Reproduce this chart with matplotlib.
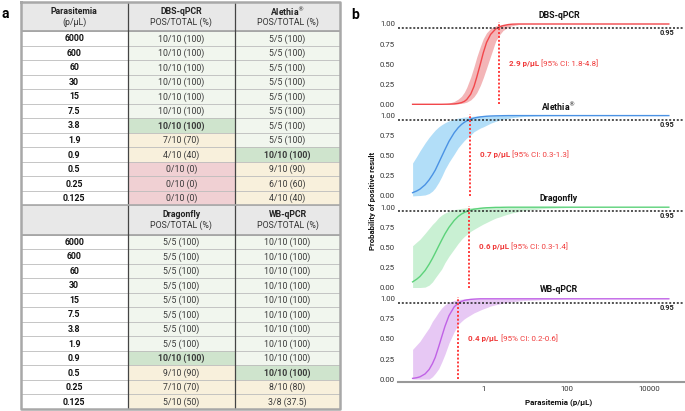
import numpy as np
import matplotlib.pyplot as plt
from matplotlib.patches import Rectangle

plt.rcParams['font.family'] = ['Roboto', 'DejaVu Sans']

W, H = 685, 411

# ---------------- panel a : table ----------------
parasitemia = ['6000', '600', '60', '30', '15', '7.5', '3.8', '1.9', '0.9', '0.5', '0.25', '0.125']

dbs_pos = [10, 10, 10, 10, 10, 10, 10, 7, 4, 0, 0, 0]
dbs_tot = [10, 10, 10, 10, 10, 10, 10, 10, 10, 10, 10, 10]
alethia_pos = [5, 5, 5, 5, 5, 5, 5, 5, 10, 9, 6, 4]
alethia_tot = [5, 5, 5, 5, 5, 5, 5, 5, 10, 10, 10, 10]
dragonfly_pos = [5, 5, 5, 5, 5, 5, 5, 5, 10, 9, 7, 5]
dragonfly_tot = [5, 5, 5, 5, 5, 5, 5, 5, 10, 10, 10, 10]
wb_pos = [10, 10, 10, 10, 10, 10, 10, 10, 10, 10, 8, 3]
wb_tot = [10, 10, 10, 10, 10, 10, 10, 10, 10, 10, 10, 8]

# row of the lowest concentration with all replicates positive (bold cell)
dbs_lod_row = 6
alethia_lod_row = 8
dragonfly_lod_row = 8
wb_lod_row = 9

# ---------------- panel b : probit curves ----------------
xgrid = [0.02, 0.025, 0.03, 0.04, 0.05, 0.06, 0.07, 0.085, 0.1, 0.12,
         0.15, 0.2, 0.25, 0.3, 0.35, 0.4, 0.5, 0.6, 0.7, 0.85,
         1, 1.2, 1.5, 2, 2.5, 3, 4, 5, 7, 10,
         30, 100, 1000, 29000]

dbs_fit = [0, 0, 0, 0, 0, 0, 0, 0, 0, 0.001,
           0.002, 0.005, 0.011, 0.021, 0.036, 0.059, 0.127, 0.224, 0.34, 0.5,
           0.64, 0.77, 0.87, 0.94, 0.965, 0.98, 0.993, 0.998, 1, 1,
           1, 1, 1, 1]
dbs_hi = [0, 0, 0, 0, 0, 0, 0.001, 0.002, 0.004, 0.008,
          0.015, 0.035, 0.065, 0.1, 0.15, 0.21, 0.34, 0.47, 0.59, 0.72,
          0.816, 0.89, 0.943, 0.977, 0.989, 0.994, 0.998, 0.999, 1, 1,
          1, 1, 1, 1]
dbs_lo = [0, 0, 0, 0, 0, 0, 0, 0, 0, 0,
          0, 0.003, 0.007, 0.012, 0.018, 0.027, 0.055, 0.095, 0.145, 0.235,
          0.33, 0.45, 0.6, 0.79, 0.87, 0.92, 0.96, 0.98, 0.993, 0.998,
          1, 1, 1, 1]

alethia_fit = [0.04, 0.061, 0.084, 0.139, 0.2, 0.262, 0.32, 0.412, 0.49, 0.577,
               0.68, 0.786, 0.85, 0.89, 0.916, 0.934, 0.956, 0.969, 0.977, 0.984,
               0.988, 0.992, 0.995, 0.997, 0.998, 0.999, 1, 1, 1, 1,
               1, 1, 1, 1]
alethia_hi = [0.41, 0.49, 0.56, 0.66, 0.73, 0.78, 0.82, 0.86, 0.886, 0.911,
              0.935, 0.957, 0.969, 0.976, 0.981, 0.984, 0.989, 0.992, 0.994, 0.995,
              0.997, 0.998, 0.998, 0.999, 0.999, 1, 1, 1, 1, 1,
              1, 1, 1, 1]
alethia_lo = [0, 0.003, 0.005, 0.012, 0.03, 0.06, 0.1, 0.17, 0.24, 0.33,
              0.42, 0.52, 0.6, 0.65, 0.69, 0.72, 0.76, 0.8, 0.82, 0.845,
              0.86, 0.88, 0.905, 0.93, 0.945, 0.955, 0.965, 0.975, 0.983, 0.99,
              0.998, 1, 1, 1]

dragonfly_fit = [0.07, 0.103, 0.137, 0.212, 0.29, 0.362, 0.43, 0.518, 0.59, 0.668,
                 0.75, 0.835, 0.885, 0.915, 0.934, 0.947, 0.964, 0.975, 0.98, 0.986,
                 0.99, 0.993, 0.995, 0.998, 0.998, 0.999, 1, 1, 1, 1,
                 1, 1, 1, 1]
dragonfly_hi = [0.52, 0.565, 0.6, 0.675, 0.736, 0.786, 0.82, 0.872, 0.902, 0.927,
                0.949, 0.97, 0.978, 0.985, 0.989, 0.992, 0.995, 0.997, 0.998, 0.999,
                1, 1, 1, 1, 1, 1, 1, 1, 1, 1,
                1, 1, 1, 1]
dragonfly_lo = [0, 0, 0, 0.005, 0.03, 0.07, 0.12, 0.18, 0.23, 0.31,
                0.39, 0.48, 0.55, 0.6, 0.635, 0.66, 0.7, 0.725, 0.745, 0.77,
                0.79, 0.81, 0.835, 0.865, 0.88, 0.895, 0.915, 0.93, 0.945, 0.96,
                0.985, 0.995, 1, 1]

wb_fit = [0.009, 0.017, 0.028, 0.065, 0.12, 0.192, 0.27, 0.405, 0.525, 0.657,
          0.79, 0.9, 0.946, 0.968, 0.98, 0.986, 0.993, 0.996, 0.998, 1,
          1, 1, 1, 1, 1, 1, 1, 1, 1, 1,
          1, 1, 1, 1]
wb_hi = [0.37, 0.425, 0.47, 0.567, 0.64, 0.72, 0.77, 0.837, 0.885, 0.925,
         0.955, 0.98, 0.99, 0.995, 0.998, 0.999, 1, 1, 1, 1,
         1, 1, 1, 1, 1, 1, 1, 1, 1, 1,
         1, 1, 1, 1]
wb_lo = [0, 0, 0, 0, 0, 0.03, 0.07, 0.13, 0.21, 0.31,
         0.45, 0.59, 0.68, 0.72, 0.75, 0.77, 0.8, 0.825, 0.84, 0.86,
         0.875, 0.89, 0.91, 0.926, 0.937, 0.946, 0.958, 0.964, 0.972, 0.98,
         0.99, 0.998, 1, 1]

# where the fitted curve meets 0.95 (red dotted line) and the reported LoD
cross_x = [2.36, 0.47, 0.45, 0.25]
lod_txt = ['2.9', '0.7', '0.6', '0.4']
ci_txt = ['1.8-4.8', '0.3-1.3', '0.3-1.4', '0.2-0.6']

assays = ['DBS-qPCR', r'Alethia$^{\circledR}$', 'Dragonfly', 'WB-qPCR']
line_colors = ['#f2474b', '#4a92e4', '#5cd27a', '#c062e6']
band_colors = ['#f3b5b7', '#b2def8', '#c9f0d3', '#e7c8f4']

fig = plt.figure(figsize=(W / 100, H / 100), dpi=100)

# ---------------- draw table ----------------
ax_t = fig.add_axes([20.7 / W, 1 - 409 / H, 319.3 / W, 407 / H])
ax_t.set_xlim(0, 319.3)
ax_t.set_ylim(28, 0)
ax_t.axis('off')
col_x = [0, 107, 214.3, 319.3]

c_header = '#e8e8e8'
c_full = '#f1f6ee'
c_lod = '#cfe4cd'
c_part = '#f8f0dc'
c_zero = '#f0d0d3'


def cell_text(p, t):
    return f"{p}/{t} ({100 * p / t:g})"


blocks = [
    (('Parasitemia', '(p/µL)'), ('DBS-qPCR', dbs_pos, dbs_tot, dbs_lod_row),
     (r'Alethia$^{\circledR}$', alethia_pos, alethia_tot, alethia_lod_row)),
    (('', ''), ('Dragonfly', dragonfly_pos, dragonfly_tot, dragonfly_lod_row),
     ('WB-qPCR', wb_pos, wb_tot, wb_lod_row)),
]

for b, (first, colA, colB) in enumerate(blocks):
    top = b * 14
    ax_t.add_patch(Rectangle((0, top), 319.3, 2, facecolor=c_header, edgecolor='none'))
    ax_t.text((col_x[0] + col_x[1]) / 2, top + 0.64, first[0], ha='center', va='center',
              fontsize=6.3, fontweight='bold', color='#222')
    ax_t.text((col_x[0] + col_x[1]) / 2, top + 1.36, first[1], ha='center', va='center',
              fontsize=6.3, color='#333')
    for k, (name, pos, tot, lrow) in enumerate([colA, colB]):
        xc = (col_x[k + 1] + col_x[k + 2]) / 2
        ax_t.text(xc, top + 0.64, name, ha='center', va='center',
                  fontsize=6.3, fontweight='bold', color='#222')
        ax_t.text(xc, top + 1.36, 'POS/TOTAL (%)', ha='center', va='center',
                  fontsize=6.3, color='#333')
        for i in range(12):
            y = top + 2 + i
            if i == lrow:
                fc = c_lod
            elif pos[i] == tot[i]:
                fc = c_full
            elif pos[i] == 0:
                fc = c_zero
            else:
                fc = c_part
            ax_t.add_patch(Rectangle((col_x[k + 1], y), col_x[k + 2] - col_x[k + 1], 1,
                                     facecolor=fc, edgecolor='none'))
            ax_t.text(xc, y + 0.53, cell_text(pos[i], tot[i]), ha='center', va='center',
                      fontsize=6.3, color='#3a3a3a',
                      fontweight='bold' if i == lrow else 'normal')
    for i in range(12):
        y = top + 2 + i
        ax_t.text((col_x[0] + col_x[1]) / 2, y + 0.53, parasitemia[i], ha='center', va='center',
                  fontsize=6.3, fontweight='bold', color='#111')
    # grid lines
    for i in range(13):
        ax_t.plot([0, 319.3], [top + 2 + i, top + 2 + i], color='#bcbcbc', lw=0.6)
    ax_t.plot([0, 319.3], [top + 2, top + 2], color='#a0a0a0', lw=1.2)
    for xv in col_x[1:3]:
        ax_t.plot([xv, xv], [top, top + 14], color='#444', lw=0.9)

ax_t.plot([0, 319.3, 319.3, 0, 0], [0, 0, 28, 28, 0], color='#a8a8a8', lw=1.8, clip_on=False)
ax_t.plot([0, 319.3], [14, 14], color='#a8a8a8', lw=1.2)

fig.text(5 / W, 1 - 13.5 / H, 'a', fontsize=10, fontweight='bold', ha='center', va='center')
fig.text(355 / W, 1 - 15 / H, 'b', fontsize=10, fontweight='bold', ha='center', va='center')

# ---------------- draw probit panels ----------------
fits = [dbs_fit, alethia_fit, dragonfly_fit, wb_fit]
his = [dbs_hi, alethia_hi, dragonfly_hi, wb_hi]
los = [dbs_lo, alethia_lo, dragonfly_lo, wb_lo]

y_one = [24, 115.6, 207.2, 298.8]
scale = 80.3
ylo, yhi = -0.035, 1.05
left_px, right_px = 398, 684
xlo, xhi = 10 ** -2.05, 10 ** 4.827

renderer = fig.canvas.get_renderer()
for k in range(4):
    bottom_px = y_one[k] + scale * (1 - ylo)
    ax = fig.add_axes([left_px / W, 1 - bottom_px / H, (right_px - left_px) / W,
                       scale * (yhi - ylo) / H])
    ax.set_xscale('log')
    ax.set_xlim(xlo, xhi)
    ax.set_ylim(ylo, yhi)
    ax.fill_between(xgrid, los[k], his[k], color=band_colors[k], lw=0)
    ax.plot(xgrid, fits[k], color=line_colors[k], lw=1.0)
    ax.axhline(0.95, color='#222', lw=1.1, ls=(0, (1.3, 1.2)))
    ax.plot([cross_x[k], cross_x[k]], [0, 1.02], color='#ff3b3b', lw=1.4,
            ls=(0, (1.0, 1.0)), clip_on=False)
    ax.text(39000, 0.885, '0.95', ha='right', va='center', fontsize=5.3,
            fontweight='bold', color='#222')
    ax.text(66, 1.11, assays[k], ha='center', va='center', fontsize=6.3,
            fontweight='bold', color='#111', clip_on=False)

    t1 = ax.annotate(f'{lod_txt[k]} p/µL', xy=(cross_x[k], 0.51), xytext=(7.4, 0),
                     textcoords='offset points', ha='left', va='center',
                     fontsize=5.8, fontweight='bold', color='#f03a3a')
    w = t1.get_window_extent(renderer).width * 72 / fig.dpi
    ax.annotate(f'[95% CI: {ci_txt[k]}]', xy=(cross_x[k], 0.51), xytext=(7.4 + w + 1.5, 0),
                textcoords='offset points', ha='left', va='center',
                fontsize=5.8, color='#f03a3a')

    ax.set_yticks([0, 0.25, 0.5, 0.75, 1.0])
    ax.set_yticklabels(['0.00', '0.25', '0.50', '0.75', '1.00'])
    ax.tick_params(axis='y', length=0, pad=2, labelsize=5.6, labelcolor='#333')
    ax.minorticks_off()
    for s in ['top', 'right', 'left']:
        ax.spines[s].set_visible(False)
    if k < 3:
        ax.spines['bottom'].set_visible(False)
        ax.set_xticks([])
    else:
        ax.spines['bottom'].set_color('#999')
        ax.spines['bottom'].set_linewidth(1.5)
        ax.set_xticks([1, 100, 10000])
        ax.set_xticklabels(['1', '100', '10000'])
        ax.tick_params(axis='x', length=0, pad=3, labelsize=5.6, labelcolor='#333')

fig.text(559 / W, 1 - 402 / H, 'Parasitemia (p/µL)', ha='center', va='center',
         fontsize=5.8, fontweight='bold', color='#111')
fig.text(372 / W, 1 - 201 / H, 'Probability of positive result', ha='center', va='center',
         rotation=90, fontsize=5.6, fontweight='bold', color='#111')

fig.savefig('out.png', dpi=100)
